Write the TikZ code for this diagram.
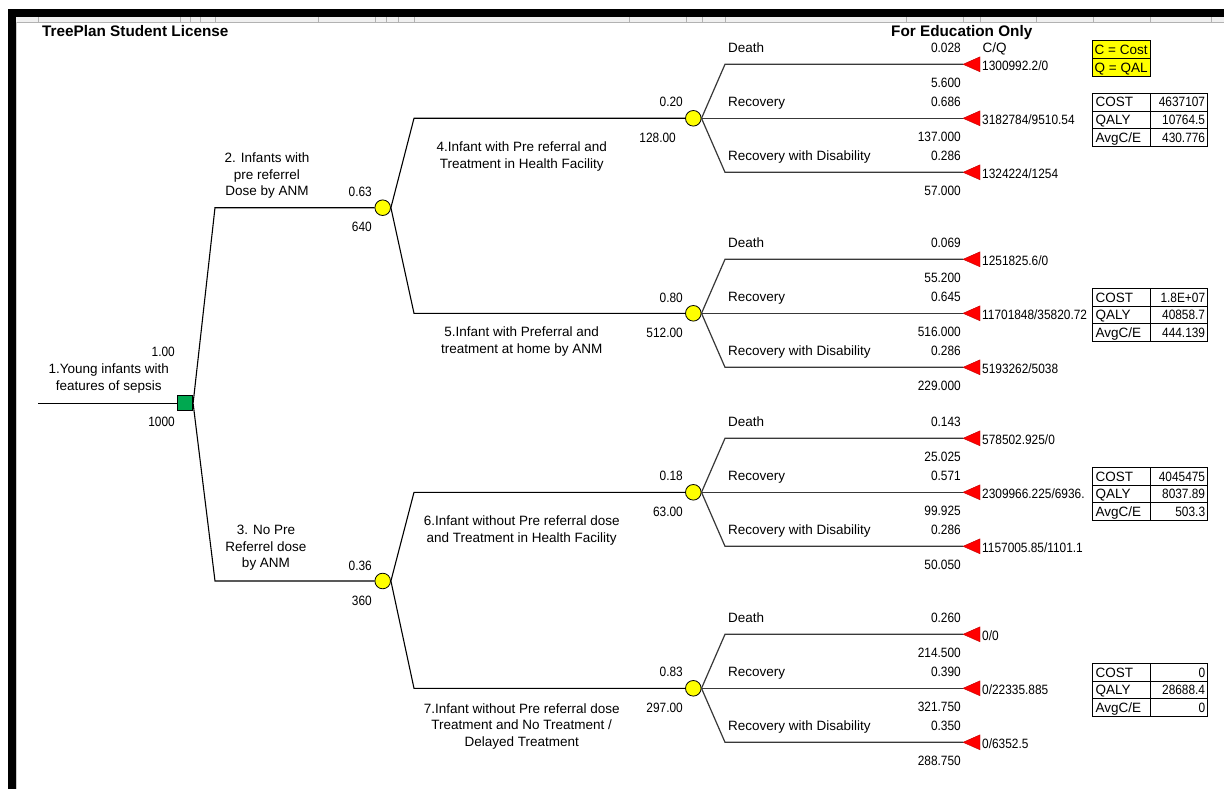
\documentclass[tikz,border=0pt]{standalone}
\usepackage{fontspec}
\setmainfont{Liberation Sans}
\newfontfamily\numf[FakeStretch=0.88]{Liberation Sans}
\usetikzlibrary{shapes.geometric}
\definecolor{dgreen}{RGB}{0,168,80}
\definecolor{tred}{RGB}{255,0,0}
\definecolor{cyel}{RGB}{255,255,0}
\newcommand\fs{\fontsize{13.5}{16.5}\selectfont}
\tikzset{
  wd/.style={font=\fs, inner sep=0pt, text height=9.7pt, text depth=0pt},
  nm/.style={font=\numf\fs, inner sep=0pt, text height=9.7pt, text depth=0pt},
  ml/.style={font=\fs, inner sep=0pt, align=center, anchor=north},
  hd/.style={font=\bfseries\fontsize{15.3}{18}\selectfont, inner sep=0pt, text height=11pt, text depth=0pt, anchor=west},
  chance/.style={circle, draw=black, fill=cyel, minimum size=15.6pt, inner sep=0pt, line width=0.8pt},
  decision/.style={rectangle, draw=black, fill=dgreen, minimum size=15pt, inner sep=0pt, line width=0.8pt},
  br/.style={line width=1.1pt, black},
  tb/.style={line width=1.2pt, black!78},
  term/.style={fill=tred, draw=tred!75!black, line width=0.4pt},
  tbl/.style={line width=0.9pt, black},
}
% terminal: name, y, label, prob, value, payoff
\newcommand\mkleaf[6]{%
  \coordinate (#1) at (963,#2);
  \node[wd,anchor=west] (#1l) at (728,#2-17) {#3};
  \node[nm,anchor=east] (#1p) at (961,#2-17) {#4};
  \node[nm,anchor=east] (#1v) at (961,#2+18) {#5};
  \node[nm,anchor=west] (#1o) at (982,#2+1.5) {#6};
  \filldraw[term] (#1) -- ++(17,-7.5) -- ++(0,15) -- cycle;
}
% summary table: name, ytop, cost, qaly, avg
\newcommand\mktable[5]{%
  \draw[tbl] (1092.7,#2) rectangle (1207.3,#2+53.1);
  \draw[tbl] (1150,#2) -- (1150,#2+53.1);
  \draw[tbl] (1092.7,#2+17.7) -- (1207.3,#2+17.7);
  \draw[tbl] (1092.7,#2+35.4) -- (1207.3,#2+35.4);
  \node[wd,anchor=west] (#1a) at (1095.5,#2+8.85) {COST};
  \node[wd,anchor=west] (#1b) at (1095.5,#2+26.55) {QALY};
  \node[wd,anchor=west] (#1c) at (1095.5,#2+44.25) {AvgC/E};
  \node[nm,anchor=east] (#1d) at (1205.3,#2+8.85) {#3};
  \node[nm,anchor=east] (#1e) at (1205.3,#2+26.55) {#4};
  \node[nm,anchor=east] (#1f) at (1205.3,#2+44.25) {#5};
}
\begin{document}
\begin{tikzpicture}[x=1pt,y=-1pt]
\useasboundingbox (0,0) rectangle (1224,789);
\fill[white] (0,0) rectangle (1224,789);
% spreadsheet frame
\fill[gray!12] (16,16.7) rectangle (1224,22);
\draw[gray!60, line width=0.6pt] (16,22) -- (1224,22);
\foreach \xx in {38,180,190.7,200,215,318,375,386.7,398,414,629,686,702,725,906.7,963,980,1036.7,1093,1150,1211.7}
  \draw[gray!60, line width=0.6pt] (\xx,16.7) -- (\xx,22);
\fill[black] (7.5,9.4) rectangle (1224,16.7);
\fill[black] (7.5,9.4) rectangle (16,789);
\draw[gray!40, line width=0.6pt] (16.6,22) -- (16.6,789);

% headers
\node[hd] (h1) at (42,31) {TreePlan Student License};
\node[hd] (h2) at (891,31) {For Education Only};

% legend
\draw[tbl, fill=cyel] (1092.7,40) rectangle (1150,58.3);
\draw[tbl, fill=cyel] (1092.7,58.3) rectangle (1150,76.7);
\node[wd,anchor=west] (lg1) at (1094.5,49.2) {C = Cost};
\node[wd,anchor=west] (lg2) at (1094.5,67.5) {Q = QAL};
\node[wd,anchor=west] (cq) at (982.5,47.3) {C/Q};

% decision node
\coordinate (r0) at (38.3,403.3);
\node[decision] (sq) at (185.2,403.3) {};
\node[nm,anchor=east] (p1) at (175,351.7) {1.00};
\node[ml] (l1) at (108.7,364) {1.Young infants with\\features of sepsis};
\node[nm,anchor=east] (v1) at (175,421.7) {1000};
\draw[br] (r0) -- (sq.west);

% first-level chance nodes
\node[chance] (c2) at (382.7,207.7) {};
\node[chance] (c3) at (382.7,581) {};
\coordinate (k2) at (215,207.7);
\coordinate (k3) at (215,581);
\draw[br] (sq.east) -- (k2) -- (c2.west);
\draw[br] (sq.east) -- (k3) -- (c3.west);
\node[ml] (l2) at (267,153) {2. Infants with\\pre referrel\\Dose by ANM};
\node[nm,anchor=east] (p2) at (372,192) {0.63};
\node[nm,anchor=east] (v2) at (372,227) {640};
\node[ml] (l3) at (266,525) {3. No Pre\\Referrel dose\\by ANM};
\node[nm,anchor=east] (p3) at (372,566) {0.36};
\node[nm,anchor=east] (v3) at (372,601) {360};

% second-level chance nodes
\node[chance] (c4) at (693.3,118.3) {};
\node[chance] (c5) at (693.3,313.3) {};
\node[chance] (c6) at (693.3,492.3) {};
\node[chance] (c7) at (693.3,688.3) {};
\coordinate (k4) at (414,118.3);
\coordinate (k5) at (414,313.3);
\coordinate (k6) at (414,492.3);
\coordinate (k7) at (414,688.3);
\draw[br] (c2.east) -- (k4) -- (c4.west);
\draw[br] (c2.east) -- (k5) -- (c5.west);
\draw[br] (c3.east) -- (k6) -- (c6.west);
\draw[br] (c3.east) -- (k7) -- (c7.west);

\node[ml] (l4) at (521.7,141.7) {4.Infant with Pre referral and\\Treatment in Health Facility};
\node[nm,anchor=east] (p4) at (683,101.7) {0.20};
\node[nm,anchor=east] (v4) at (676,137.7) {128.00};
\node[ml] (l5) at (521.7,327) {5.Infant with Preferral and\\treatment at home by ANM};
\node[nm,anchor=east] (p5) at (683,298) {0.80};
\node[nm,anchor=east] (v5) at (683,333) {512.00};
\node[ml] (l6) at (521.7,515.7) {6.Infant without Pre referral dose\\and Treatment in Health Facility};
\node[nm,anchor=east] (p6) at (683,476) {0.18};
\node[nm,anchor=east] (v6) at (683,511.7) {63.00};
\node[ml] (l7) at (521.7,703.3) {7.Infant without Pre referral dose\\Treatment and No Treatment /\\Delayed Treatment};
\node[nm,anchor=east] (p7) at (683,672) {0.83};
\node[nm,anchor=east] (v7) at (683,708) {297.00};

% terminals of node 4
\mkleaf{t4a}{64.3}{Death}{0.028}{5.600}{1300992.2/0}
\mkleaf{t4b}{118.3}{Recovery}{0.686}{137.000}{3182784/9510.54}
\mkleaf{t4c}{172.3}{Recovery with Disability}{0.286}{57.000}{1324224/1254}
% node 5
\mkleaf{t5a}{259.3}{Death}{0.069}{55.200}{1251825.6/0}
\mkleaf{t5b}{313.3}{Recovery}{0.645}{516.000}{11701848/35820.72}
\mkleaf{t5c}{367.3}{Recovery with Disability}{0.286}{229.000}{5193262/5038}
% node 6
\mkleaf{t6a}{438.3}{Death}{0.143}{25.025}{578502.925/0}
\mkleaf{t6b}{492.3}{Recovery}{0.571}{99.925}{2309966.225/6936.}
\mkleaf{t6c}{546.3}{Recovery with Disability}{0.286}{50.050}{1157005.85/1101.1}
% node 7
\mkleaf{t7a}{634.3}{Death}{0.260}{214.500}{0/0}
\mkleaf{t7b}{688.3}{Recovery}{0.390}{321.750}{0/22335.885}
\mkleaf{t7c}{742.3}{Recovery with Disability}{0.350}{288.750}{0/6352.5}

% branch corners
\coordinate (d4a) at (725,64.3);  \coordinate (d4c) at (725,172.3);
\coordinate (d5a) at (725,259.3); \coordinate (d5c) at (725,367.3);
\coordinate (d6a) at (725,438.3); \coordinate (d6c) at (725,546.3);
\coordinate (d7a) at (725,634.3); \coordinate (d7c) at (725,742.3);
\draw[tb] (c4.east) -- (d4a) -- (t4a);
\draw[tb] (c4.east) -- (t4b);
\draw[tb] (c4.east) -- (d4c) -- (t4c);
\draw[tb] (c5.east) -- (d5a) -- (t5a);
\draw[tb] (c5.east) -- (t5b);
\draw[tb] (c5.east) -- (d5c) -- (t5c);
\draw[tb] (c6.east) -- (d6a) -- (t6a);
\draw[tb] (c6.east) -- (t6b);
\draw[tb] (c6.east) -- (d6c) -- (t6c);
\draw[tb] (c7.east) -- (d7a) -- (t7a);
\draw[tb] (c7.east) -- (t7b);
\draw[tb] (c7.east) -- (d7c) -- (t7c);

% summary tables
\mktable{s4}{93.3}{4637107}{10764.5}{430.776}
\mktable{s5}{288.3}{1.8E+07}{40858.7}{444.139}
\mktable{s6}{467.3}{4045475}{8037.89}{503.3}
\mktable{s7}{663.3}{0}{28688.4}{0}
\end{tikzpicture}
\end{document}
